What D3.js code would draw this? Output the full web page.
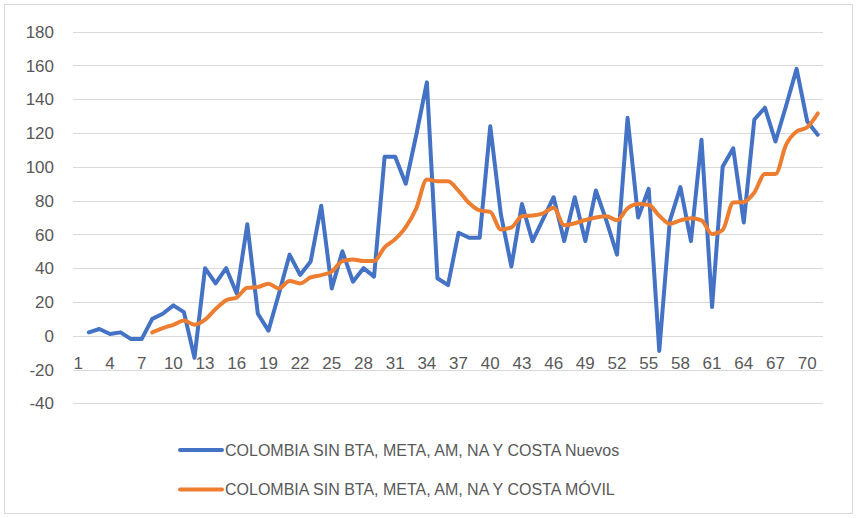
<!DOCTYPE html>
<html>
<head>
<meta charset="utf-8">
<script src="https://cdn.jsdelivr.net/npm/d3@7"></script>
<style>
  html, body { margin: 0; padding: 0; background: #fff; }
  svg text { font-family: "Liberation Sans", Arial, sans-serif; fill: #595959; }
</style>
</head>
<body>
<svg id="chart"></svg>
<script>
const categories = [1,2,3,4,5,6,7,8,9,10,11,12,13,14,15,16,17,18,19,20,21,22,23,24,25,26,27,28,29,30,
  31,32,33,34,35,36,37,38,39,40,41,42,43,44,45,46,47,48,49,50,51,52,53,54,55,56,57,58,59,60,
  61,62,63,64,65,66,67,68,69,70,71];

// Nuevos (first day empty)
const nuevos = [null,2,4,1,2,-2,-2,10,13,18,14,-13,40,31,40,25,66,13,3,25,
  48,36,44,77,28,50,32,40,35,106,106,90,119,150,34,30,61,58,58,124,
  72,41,78,56,69,82,56,82,56,86,68,48,129,70,87,-9,68,88,56,116,
  17,100,111,67,128,135,115,136,158,127,119];

// MÓVIL (starts at day 8)
const movil = [null,null,null,null,null,null,null,2,4.5,6.5,9,6.5,9.5,15.8,21,22.7,28.4,28.8,30.8,28,
  32.4,31,34.5,35.9,38,44.2,45.2,44.2,44.2,52.3,57.2,64.3,75.5,92.5,91.5,91.4,85.8,78.6,74.2,73.3,
  62.9,64.1,70.8,71.2,72.5,75.8,65.4,66.6,68.5,70,70.7,68.3,75.5,78,77.5,71,66.3,68.3,69.6,68.3,
  60.2,62.6,78.9,79.2,84.8,95.7,95.7,113,120.9,123.4,131.6];

const yTicks = [-40,-20,0,20,40,60,80,100,120,140,160,180];
const xTickLabels = [1,4,7,10,13,16,19,22,25,28,31,34,37,40,43,46,49,52,55,58,61,64,67,70];

const seriesNames = [
  "COLOMBIA SIN BTA, META, AM, NA Y COSTA Nuevos",
  "COLOMBIA SIN BTA, META, AM, NA Y COSTA MÓVIL"
];
const colors = ["#4472C4", "#ED7D31"];

const width = 857, height = 518;
const svg = d3.select('#chart').attr('width', width).attr('height', height);

svg.append('rect')
  .attr('x', 4.5).attr('y', 4.5)
  .attr('width', width - 9).attr('height', height - 9)
  .attr('fill', '#fff').attr('stroke', '#d9d9d9');

const x = d3.scalePoint().domain(categories).range([73, 823]).padding(0.5);
const y = d3.scaleLinear().domain([-40, 180]).range([403.3, 31.7]);

// gridlines
svg.append('g').selectAll('line')
  .data(yTicks)
  .enter().append('line')
  .attr('x1', 73).attr('x2', 823)
  .attr('y1', d => Math.round(y(d)) + 0.5)
  .attr('y2', d => Math.round(y(d)) + 0.5)
  .attr('stroke', '#d9d9d9').attr('stroke-width', 1);

// y labels
svg.append('g').selectAll('text')
  .data(yTicks)
  .enter().append('text')
  .attr('x', 54)
  .attr('y', d => y(d))
  .attr('dy', '0.36em')
  .attr('text-anchor', 'end')
  .style('font-size', '17px')
  .text(d => d);

// x labels
svg.append('g').selectAll('text')
  .data(xTickLabels)
  .enter().append('text')
  .attr('x', d => x(d))
  .attr('y', 368.5)
  .attr('text-anchor', 'middle')
  .style('font-size', '17px')
  .text(d => d);

const line = d3.line()
  .defined(d => d.v !== null)
  .x(d => x(d.c))
  .y(d => y(d.v));

svg.append('path')
  .datum(categories.map((c, i) => ({ c: c, v: nuevos[i] })))
  .attr('d', line)
  .attr('fill', 'none')
  .attr('stroke', colors[0])
  .attr('stroke-width', 4)
  .attr('stroke-linejoin', 'round')
  .attr('stroke-linecap', 'round');

svg.append('path')
  .datum(categories.map((c, i) => ({ c: c, v: movil[i] })))
  .attr('d', line.curve(d3.curveMonotoneX))
  .attr('fill', 'none')
  .attr('stroke', colors[1])
  .attr('stroke-width', 4)
  .attr('stroke-linejoin', 'round')
  .attr('stroke-linecap', 'round');

// legend
const legend = svg.append('g').selectAll('g')
  .data(seriesNames)
  .enter().append('g')
  .attr('transform', (d, i) => `translate(0,${450 + i * 39.5})`);

legend.append('line')
  .attr('x1', 180).attr('x2', 222)
  .attr('stroke', (d, i) => colors[i])
  .attr('stroke-width', 4)
  .attr('stroke-linecap', 'round');

legend.append('text')
  .attr('x', 225)
  .attr('dy', '0.36em')
  .style('font-size', '16px')
  .text(d => d);
</script>
</body>
</html>
